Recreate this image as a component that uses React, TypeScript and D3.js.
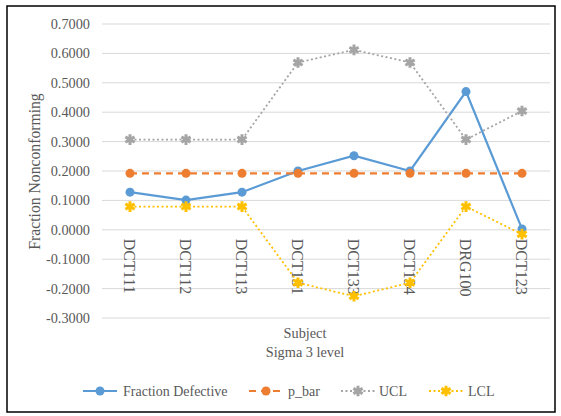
import * as d3 from "d3";

const subjects = ["DCT111", "DCT112", "DCT113", "DCT131", "DCT133", "DCT134", "DRG100", "DCT123"];
const fractionDefective = [0.128, 0.101, 0.128, 0.2, 0.252, 0.2, 0.47, 0.003];
const pBar = [0.192, 0.192, 0.192, 0.192, 0.192, 0.192, 0.192, 0.192];
const ucl = [0.307, 0.307, 0.307, 0.569, 0.612, 0.569, 0.307, 0.404];
const lcl = [0.079, 0.079, 0.079, -0.18, -0.226, -0.18, 0.079, -0.015];
const yTicks = [0.7, 0.6, 0.5, 0.4, 0.3, 0.2, 0.1, 0, -0.1, -0.2, -0.3];

const W = 561;
const H = 416;
const font = "Liberation Serif";
const textColor = "#595959";

const series = [
  { name: "Fraction Defective", values: fractionDefective, color: "#5B9BD5", dash: "", width: 2.2, marker: "circle" },
  { name: "p_bar", values: pBar, color: "#ED7D31", dash: "7,5", width: 2.2, marker: "circle" },
  { name: "UCL", values: ucl, color: "#A5A5A5", dash: "2,2.5", width: 1.8, marker: "star" },
  { name: "LCL", values: lcl, color: "#FFC000", dash: "2,2.5", width: 1.8, marker: "star" },
];

function Marker({ kind, x, y, color }: { kind: string; x: number; y: number; color: string }) {
  if (kind === "circle") return <circle cx={x} cy={y} r={4.5} fill={color} />;
  const p = d3.symbol(d3.symbolAsterisk, 80)() || "";
  return (
    <g transform={`translate(${x},${y})`}>
      <path d={p} stroke={color} strokeWidth={3} fill="none" />
      <circle r={2.6} fill={color} />
    </g>
  );
}

export default function App() {
  const x = d3.scaleBand<string>().domain(subjects).range([102, 550]);
  const y = d3.scaleLinear().domain([-0.3, 0.7]).range([318, 24]);
  const cx = (s: string) => (x(s) || 0) + x.bandwidth() / 2;
  const line = d3
    .line<number>()
    .x((_, i) => cx(subjects[i]))
    .y((d) => y(d));

  const legendItems = [
    { s: series[0], lx: 83, tx: 123 },
    { s: series[1], lx: 249, tx: 288 },
    { s: series[2], lx: 341, tx: 379 },
    { s: series[3], lx: 429, tx: 468 },
  ];

  return (
    <svg width={W} height={H} style={{ position: "absolute", left: 0, top: 0, fontFamily: font }}>
      <rect x={0} y={0} width={W} height={H} fill="#fff" />
      <rect x={7} y={6} width={548} height={406} fill="#fff" stroke="#000" strokeWidth={1.5} />
      {yTicks.map((t) => (
        <g key={t}>
          <line x1={102} x2={550} y1={y(t)} y2={y(t)} stroke="#D9D9D9" strokeWidth={1} />
          <text x={90} y={y(t)} dy="0.35em" textAnchor="end" fontSize={14.3} fill={textColor}>
            {t.toFixed(4)}
          </text>
        </g>
      ))}
      <text
        transform={`translate(40,${(93 + 250) / 2}) rotate(-90)`}
        textAnchor="middle"
        fontSize={15.7}
        fill={textColor}
      >
        Fraction Nonconforming
      </text>
      {subjects.map((s) => (
        <text
          key={s}
          transform={`translate(${cx(s)},${y(0) + 9}) rotate(90)`}
          dy="0.35em"
          fontSize={16}
          fill={textColor}
        >
          {s}
        </text>
      ))}
      {series.map((s) => (
        <g key={s.name}>
          <path d={line(s.values) || ""} fill="none" stroke={s.color} strokeWidth={s.width} strokeDasharray={s.dash} />
          {s.values.map((v, i) => (
            <Marker key={i} kind={s.marker} x={cx(subjects[i])} y={y(v)} color={s.color} />
          ))}
        </g>
      ))}
      <text x={305} y={338} textAnchor="middle" fontSize={14.3} fill={textColor}>
        Subject
      </text>
      <text x={305} y={357} textAnchor="middle" fontSize={14.3} fill={textColor}>
        Sigma 3 level
      </text>
      {legendItems.map(({ s, lx, tx }) => (
        <g key={s.name}>
          <line x1={lx} x2={lx + 34} y1={391} y2={391} stroke={s.color} strokeWidth={s.width} strokeDasharray={s.dash} />
          <Marker kind={s.marker} x={lx + 17} y={391} color={s.color} />
          <text x={tx} y={391} dy="0.35em" fontSize={14} fill={textColor}>
            {s.name}
          </text>
        </g>
      ))}
    </svg>
  );
}
